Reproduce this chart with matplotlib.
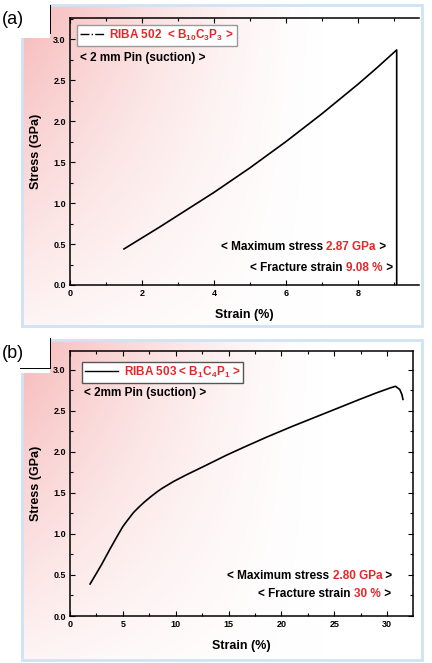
import numpy as np
import matplotlib.pyplot as plt
from matplotlib.lines import Line2D
from matplotlib.patches import Rectangle
from matplotlib.ticker import MultipleLocator

plt.rcParams['font.family'] = ['Liberation Sans', 'DejaVu Sans']
plt.rcParams['mathtext.fontset'] = 'custom'
plt.rcParams['mathtext.rm'] = 'Liberation Sans:bold'
plt.rcParams['mathtext.it'] = 'Liberation Sans:bold'

# panel (a): RIBA 502
strain_a = [1.5, 2.0, 2.5, 3.0, 3.5, 4.0, 4.5, 5.0, 5.5, 6.0, 6.5, 7.0, 7.5, 8.0, 8.5, 9.08, 9.08]
stress_a = [0.44, 0.575, 0.71, 0.85, 0.99, 1.13, 1.28, 1.43, 1.59, 1.75, 1.92, 2.09, 2.27, 2.45, 2.64, 2.87, 0.0]
label_a = r'RIBA 502  < B$_{10}$C$_{3}$P$_{3}$ >'
pin_a = '< 2 mm Pin (suction) >'
max_a = '2.87 GPa'
frac_a = '9.08 %'

# panel (b): RIBA 503
strain_b = [1.9, 2.5, 3.0, 3.8, 4.5, 5.0, 5.4, 6.0, 6.5, 7.0, 7.6, 8.2, 8.7, 9.8, 11.0, 12.6, 14.8, 16.5,
            18.6, 21.0, 24.3, 27.4, 29.0, 30.3, 30.8, 31.2, 31.4, 31.5]
stress_b = [0.39, 0.52, 0.63, 0.82, 0.98, 1.09, 1.16, 1.26, 1.325, 1.385, 1.45, 1.51, 1.555, 1.64, 1.72, 1.82,
            1.96, 2.06, 2.18, 2.31, 2.48, 2.64, 2.72, 2.78, 2.80, 2.76, 2.70, 2.64]
label_b = r'RIBA 503 < B$_{1}$C$_{4}$P$_{1}$ >'
pin_b = '< 2mm Pin (suction) >'
max_b = '2.80 GPa'
frac_b = '30 %'

W, H = 432, 663
RED = '#e8262a'
FS = 8.5
fig = plt.figure(figsize=(W / 100, H / 100), dpi=100)

# background layer in pixel coordinates
bg = fig.add_axes([0, 0, 1, 1], zorder=0)
bg.set_xlim(0, W)
bg.set_ylim(H, 0)
bg.axis('off')


def panel_box(y0, y1, tag):
    x0, x1 = 22, 422
    nx, ny = 200, 120
    u = np.linspace(0, 1, nx)[None, :]
    v = np.linspace(0, 1, ny)[:, None]
    a = np.clip(1 - u / 0.75, 0, 1) ** 1.4 * (1 - 0.85 * v)
    pink = np.array([247, 185, 185]) / 255
    img = 1 - a[..., None] * (1 - pink)
    bg.imshow(img, extent=(x0, x1, y1, y0), aspect='auto', interpolation='bilinear')
    bg.add_patch(Rectangle((x0, y0), x1 - x0, y1 - y0, fill=False, ec='#cfe2f6', lw=2))
    # tag patch over the top-left corner
    bg.add_patch(Rectangle((0, 0 if tag == '(a)' else y0 - 4), 50, 33 + (4 if tag == '(b)' else y0),
                           fc='white', ec='none'))
    ytop = y0 if tag == '(a)' else y0 - 2
    bg.plot([50, 50], [ytop, y0 + 28], color='black', lw=0.7)
    if tag == '(b)':
        bg.plot([20, 50], [y0 + 28, y0 + 28], color='black', lw=0.7)
    bg.text(2, y0 + 14, tag, fontsize=13, va='center', ha='left')


panel_box(5, 326, '(a)')
panel_box(340, 660, '(b)')


def mixed_text(ax, x, y, black, red):
    t = ax.text(x, y, ' >', transform=ax.transAxes, ha='right', va='bottom',
                fontsize=FS, fontweight='bold')
    t = ax.annotate(red, xy=(0, 0), xycoords=t, ha='right', va='bottom',
                    fontsize=FS, fontweight='bold', color=RED)
    ax.annotate(black, xy=(0, 0), xycoords=t, ha='right', va='bottom',
                fontsize=FS, fontweight='bold')


def style_axes(ax, xmaj, xmin, right_spine):
    ax.set_facecolor('none')
    ax.xaxis.set_major_locator(MultipleLocator(xmaj))
    ax.xaxis.set_minor_locator(MultipleLocator(xmin))
    ax.yaxis.set_major_locator(MultipleLocator(0.5))
    ax.yaxis.set_minor_locator(MultipleLocator(0.25))
    ax.tick_params(which='both', direction='in', top=True, right=right_spine,
                   labelsize=6.5, width=0.8, pad=3)
    ax.tick_params(which='major', length=3.5)
    ax.tick_params(which='minor', length=2)
    for lab in ax.get_xticklabels() + ax.get_yticklabels():
        lab.set_fontweight('bold')
    ax.yaxis.set_major_formatter(lambda v, p: f'{v:.1f}')
    for s in ax.spines.values():
        s.set_linewidth(1.1)
    ax.spines['right'].set_visible(right_spine)
    ax.set_xlabel('Strain (%)', fontsize=9, fontweight='bold', labelpad=8)
    ax.set_ylabel('Stress (GPa)', fontsize=9, fontweight='bold', labelpad=8)


# panel (a)
ax1 = fig.add_axes([70 / W, 1 - 285 / H, 349 / W, 267 / H], zorder=1)
ax1.plot(strain_a, stress_a, color='black', lw=1.2)
ax1.set_xlim(0, 9.7)
ax1.set_ylim(0, 3.26)
style_axes(ax1, 2, 1, False)
ax1.legend(handles=[Line2D([], [], color='black', ls='-.', lw=1)], labels=[label_a],
           loc='upper left', bbox_to_anchor=(0.02, 0.975), fancybox=False, framealpha=1,
           edgecolor='#999999', labelcolor=RED, prop={'weight': 'bold', 'size': FS},
           handlelength=2.0, borderpad=0.25, handletextpad=0.5, borderaxespad=0)
ax1.text(0.03, 0.85, pin_a, transform=ax1.transAxes, fontsize=FS, fontweight='bold', va='center')
mixed_text(ax1, 0.905, 0.118, '< Maximum stress ', max_a)
mixed_text(ax1, 0.925, 0.04, '< Fracture strain ', frac_a)

# panel (b)
ax2 = fig.add_axes([70 / W, 1 - 616 / H, 343 / W, 265 / H], zorder=1)
ax2.plot(strain_b, stress_b, color='black', lw=1.2)
ax2.set_xlim(0, 32.45)
ax2.set_ylim(0, 3.23)
style_axes(ax2, 5, 2.5, True)
ax2.legend(handles=[Line2D([], [], color='black', ls='-', lw=1)], labels=[label_b],
           loc='upper left', bbox_to_anchor=(0.035, 0.96), fancybox=False, framealpha=1,
           edgecolor='#555555', labelcolor=RED, prop={'weight': 'bold', 'size': FS},
           handlelength=2.8, borderpad=0.25, handletextpad=0.5, borderaxespad=0)
ax2.text(0.04, 0.84, pin_b, transform=ax2.transAxes, fontsize=FS, fontweight='bold', va='center')
mixed_text(ax2, 0.94, 0.128, '< Maximum stress ', max_b)
mixed_text(ax2, 0.935, 0.06, '< Fracture strain ', frac_b)

fig.savefig('out.png', dpi=100)
